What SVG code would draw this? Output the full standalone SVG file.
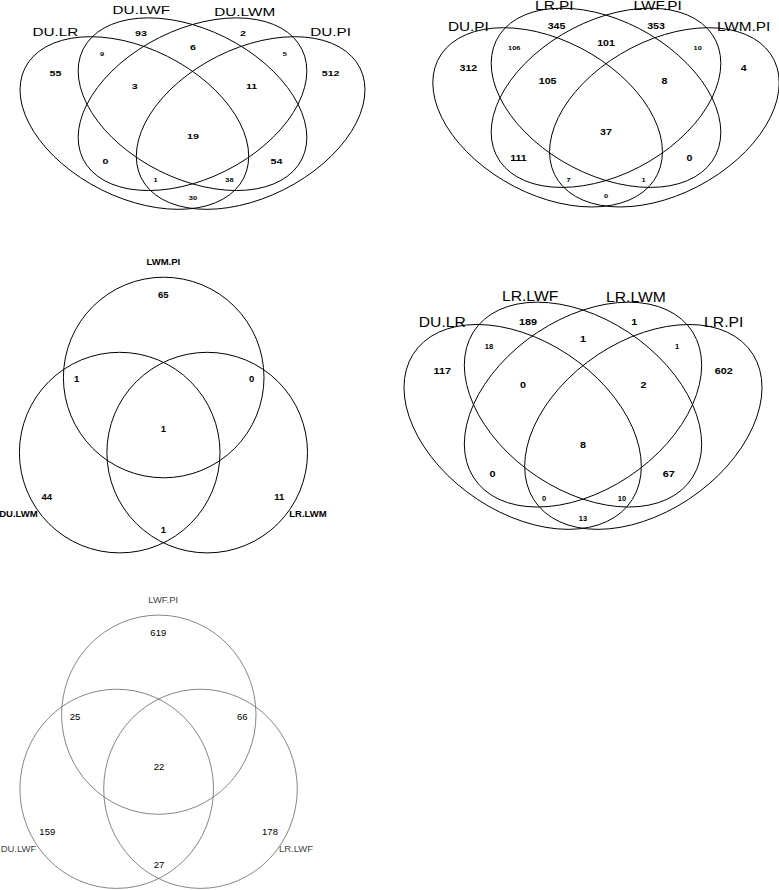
<svg xmlns="http://www.w3.org/2000/svg" width="779" height="890" viewBox="0 0 779 890">
<style>
text{font-family:"Liberation Sans",Arial,Helvetica,sans-serif;text-anchor:middle;fill:#000}
.e{fill:none;stroke:#000;stroke-width:1;vector-effect:non-scaling-stroke}
.c3{fill:none;stroke:#000;stroke-width:1}
.c5{fill:none;stroke:#666;stroke-width:0.8}
.p1n{font-size:11.5px}.p1c{font-size:8px;font-weight:bold}.p1s{font-size:5.6px;font-weight:bold}
.p2n{font-size:12px}.p2c{font-size:8.3px;font-weight:bold}.p2s{font-size:5.8px;font-weight:bold}
.p3n{font-size:13.75px}.p3c{font-size:9.5px;font-weight:bold}.p3s{font-size:6.6px;font-weight:bold}
.p4{font-size:9.5px;font-weight:bold}
.p5{font-size:9.5px;fill:#444}
</style>

<!-- Panel 1: DU 4-set -->
<g id="panel-du">
  <g transform="translate(26.4 229.6) scale(0.8305 -0.627)">
    <g id="set-du-lr"><ellipse class="e" cx="130" cy="170" rx="162" ry="108" transform="rotate(-45 130 170)"/></g>
    <g id="set-du-lwf"><ellipse class="e" cx="200" cy="200" rx="162" ry="108" transform="rotate(-45 200 200)"/></g>
    <g id="set-du-lwm"><ellipse class="e" cx="200" cy="200" rx="162" ry="108" transform="rotate(45 200 200)"/></g>
    <g id="set-du-pi"><ellipse class="e" cx="270" cy="170" rx="162" ry="108" transform="rotate(45 270 170)"/></g>
  </g>
  <g id="names-du" class="p1n">
    <text transform="translate(55.4 36.2) scale(1.33 1)">DU.LR</text>
    <text transform="translate(141.3 14.3) scale(1.33 1)">DU.LWF</text>
    <text transform="translate(244.7 15.5) scale(1.33 1)">DU.LWM</text>
    <text transform="translate(330.6 36.2) scale(1.33 1)">DU.PI</text>
  </g>
  <g id="counts-du">
    <text class="p1c" transform="translate(55.4 76.4) scale(1.33 1)">55</text>
    <text class="p1c" transform="translate(141 35.7) scale(1.33 1)">93</text>
    <text class="p1c" transform="translate(243 35.7) scale(1.33 1)">2</text>
    <text class="p1c" transform="translate(330.6 76.4) scale(1.33 1)">512</text>
    <text class="p1s" transform="translate(102 55.8) scale(1.33 1)">9</text>
    <text class="p1c" transform="translate(105.4 164.2) scale(1.33 1)">0</text>
    <text class="p1s" transform="translate(193 200) scale(1.33 1)">30</text>
    <text class="p1c" transform="translate(193 50.1) scale(1.33 1)">6</text>
    <text class="p1c" transform="translate(276.4 164.2) scale(1.33 1)">54</text>
    <text class="p1s" transform="translate(284.7 55.8) scale(1.33 1)">5</text>
    <text class="p1c" transform="translate(134.6 89) scale(1.33 1)">3</text>
    <text class="p1s" transform="translate(229.5 181.8) scale(1.33 1)">38</text>
    <text class="p1s" transform="translate(155.5 181.8) scale(1.33 1)">1</text>
    <text class="p1c" transform="translate(251.6 89) scale(1.33 1)">11</text>
    <text class="p1c" transform="translate(193 139.1) scale(1.33 1)">19</text>
  </g>
</g>

<!-- Panel 2: PI 4-set -->
<g id="panel-pi">
  <g transform="translate(439.2 228) scale(0.834 -0.651)">
    <g id="set-pi-du"><ellipse class="e" cx="130" cy="170" rx="162" ry="108" transform="rotate(-45 130 170)"/></g>
    <g id="set-pi-lr"><ellipse class="e" cx="200" cy="200" rx="162" ry="108" transform="rotate(-45 200 200)"/></g>
    <g id="set-pi-lwf"><ellipse class="e" cx="200" cy="200" rx="162" ry="108" transform="rotate(45 200 200)"/></g>
    <g id="set-pi-lwm"><ellipse class="e" cx="270" cy="170" rx="162" ry="108" transform="rotate(45 270 170)"/></g>
  </g>
  <g id="names-pi" class="p2n">
    <text transform="translate(468.4 31) scale(1.28 1)">DU.PI</text>
    <text transform="translate(554.3 9.5) scale(1.28 1)">LR.PI</text>
    <text transform="translate(657.7 10) scale(1.28 1)">LWF.PI</text>
    <text transform="translate(743.6 31) scale(1.28 1)">LWM.PI</text>
  </g>
  <g id="counts-pi">
    <text class="p2c" transform="translate(468.4 70.6) scale(1.28 1)">312</text>
    <text class="p2c" transform="translate(556.5 29.1) scale(1.28 1)">345</text>
    <text class="p2c" transform="translate(656 29.1) scale(1.28 1)">353</text>
    <text class="p2c" transform="translate(743.6 70.6) scale(1.28 1)">4</text>
    <text class="p2s" transform="translate(514.3 49.6) scale(1.28 1)">106</text>
    <text class="p2c" transform="translate(518.4 160.6) scale(1.28 1)">111</text>
    <text class="p2s" transform="translate(606 198.1) scale(1.28 1)">0</text>
    <text class="p2c" transform="translate(606 45.9) scale(1.28 1)">101</text>
    <text class="p2c" transform="translate(689.4 160.6) scale(1.28 1)">0</text>
    <text class="p2s" transform="translate(697.7 49.6) scale(1.28 1)">10</text>
    <text class="p2c" transform="translate(547.6 84.1) scale(1.28 1)">105</text>
    <text class="p2s" transform="translate(643.5 181.6) scale(1.28 1)">1</text>
    <text class="p2s" transform="translate(568.5 181.6) scale(1.28 1)">7</text>
    <text class="p2c" transform="translate(664.4 84.1) scale(1.28 1)">8</text>
    <text class="p2c" transform="translate(606 135.4) scale(1.28 1)">37</text>
  </g>
</g>

<!-- Panel 3: LR 4-set -->
<g id="panel-lr">
  <g transform="translate(410.6 553.4) scale(0.862 -0.744)">
    <g id="set-lr-du"><ellipse class="e" cx="130" cy="170" rx="162" ry="108" transform="rotate(-45 130 170)"/></g>
    <g id="set-lr-lwf"><ellipse class="e" cx="200" cy="200" rx="162" ry="108" transform="rotate(-45 200 200)"/></g>
    <g id="set-lr-lwm"><ellipse class="e" cx="200" cy="200" rx="162" ry="108" transform="rotate(45 200 200)"/></g>
    <g id="set-lr-pi"><ellipse class="e" cx="270" cy="170" rx="162" ry="108" transform="rotate(45 270 170)"/></g>
  </g>
  <g id="names-lr" class="p3n">
    <text transform="translate(442.3 326.6) scale(1.14 1)">DU.LR</text>
    <text transform="translate(530.1 301) scale(1.14 1)">LR.LWF</text>
    <text transform="translate(635.9 302) scale(1.14 1)">LR.LWM</text>
    <text transform="translate(723.7 326.6) scale(1.14 1)">LR.PI</text>
  </g>
  <g id="counts-lr">
    <text class="p3c" transform="translate(442.3 373.7) scale(1.14 1)">117</text>
    <text class="p3c" transform="translate(528 325.1) scale(1.14 1)">189</text>
    <text class="p3c" transform="translate(634.2 325.1) scale(1.14 1)">1</text>
    <text class="p3c" transform="translate(723.7 373.7) scale(1.14 1)">602</text>
    <text class="p3s" transform="translate(489 348.8) scale(1.14 1)">18</text>
    <text class="p3c" transform="translate(492.5 477.1) scale(1.14 1)">0</text>
    <text class="p3s" transform="translate(583 520.7) scale(1.14 1)">13</text>
    <text class="p3c" transform="translate(583 342.3) scale(1.14 1)">1</text>
    <text class="p3c" transform="translate(668.8 477.1) scale(1.14 1)">67</text>
    <text class="p3s" transform="translate(677 348.8) scale(1.14 1)">1</text>
    <text class="p3c" transform="translate(523 388.1) scale(1.14 1)">0</text>
    <text class="p3s" transform="translate(622 501.1) scale(1.14 1)">10</text>
    <text class="p3s" transform="translate(544 501.1) scale(1.14 1)">0</text>
    <text class="p3c" transform="translate(643.5 388.1) scale(1.14 1)">2</text>
    <text class="p3c" transform="translate(583 447.6) scale(1.14 1)">8</text>
  </g>
</g>

<!-- Panel 4: LWM 3-set -->
<g id="panel-lwm">
  <g id="set-lwm-pi"><circle class="c3" cx="163.7" cy="377.5" r="100.3"/><text class="p4" x="163.3" y="265">LWM.PI</text></g>
  <g id="set-du-lwm-c"><circle class="c3" cx="119.7" cy="452.6" r="100.3"/><text class="p4" x="18.5" y="516.7">DU.LWM</text></g>
  <g id="set-lr-lwm-c"><circle class="c3" cx="207.2" cy="452.6" r="100.3"/><text class="p4" x="308" y="516.7">LR.LWM</text></g>
  <g id="counts-lwm" class="p4">
    <text x="163.3" y="298.4">65</text>
    <text x="76.7" y="382.4">1</text>
    <text x="251.7" y="382.4">0</text>
    <text x="163.3" y="432.4">1</text>
    <text x="46.7" y="500">44</text>
    <text x="279.3" y="500">11</text>
    <text x="163.3" y="532.7">1</text>
  </g>
</g>

<!-- Panel 5: LWF 3-set -->
<g id="panel-lwf">
  <g id="set-lwf-pi"><ellipse class="c5" cx="158.8" cy="714.7" rx="97.2" ry="99.6"/><text class="p5" x="163.3" y="602.7">LWF.PI</text></g>
  <g id="set-du-lwf-c"><ellipse class="c5" cx="116.7" cy="788.8" rx="96.8" ry="99.6"/><text class="p5" x="18.5" y="851.7">DU.LWF</text></g>
  <g id="set-lr-lwf-c"><ellipse class="c5" cx="200.5" cy="788.8" rx="96.8" ry="99.6"/><text class="p5" x="296" y="851.7">LR.LWF</text></g>
  <g id="counts-lwf" class="p5">
    <text x="158.3" y="636">619</text>
    <text x="75" y="720">25</text>
    <text x="242.3" y="720">66</text>
    <text x="159" y="770">22</text>
    <text x="47.3" y="835">159</text>
    <text x="270" y="835">178</text>
    <text x="159" y="868.4">27</text>
  </g>
</g>
</svg>
